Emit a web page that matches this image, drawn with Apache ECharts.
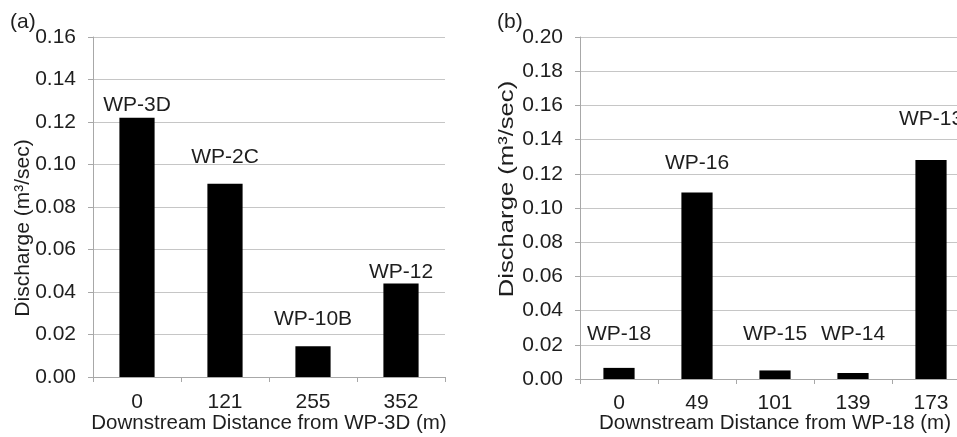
<!DOCTYPE html>
<html>
<head>
<meta charset="utf-8">
<script src="https://cdn.jsdelivr.net/npm/echarts@6/dist/echarts.min.js"></script>
<style>
html,body{margin:0;padding:0;background:#fff;}
#c{width:957px;height:437px;}
</style>
</head>
<body>
<div id="c"></div>
<script>
// Panel (a)
var distA = ['0', '121', '255', '352'];
var siteA = ['WP-3D', 'WP-2C', 'WP-10B', 'WP-12'];
var dischargeA = [0.122, 0.091, 0.0145, 0.044];
// Panel (b)
var distB = ['0', '49', '101', '139', '173'];
var siteB = ['WP-18', 'WP-16', 'WP-15', 'WP-14', 'WP-13'];
var dischargeB = [0.0065, 0.109, 0.005, 0.0035, 0.128];

var yNameA = 'Discharge (m³/sec)';
var yNameB = 'Discharge (m³/sec)';

// label gaps (layout only, px)
var gapA = [2, 16, 16, 1];
var gapB = [23, 19, 26, 28, 30];

var FONT = 'Liberation Sans, Arial, sans-serif';
var TXT = '#1e1e1e';
var GRID = '#c6c6c6';
var AXIS = '#a8a8a8';
var FS = 21;

function buildData(vals, gaps) {
  return vals.map(function (v, i) {
    return { value: v, label: { distance: gaps[i] } };
  });
}

function xAxisCfg(idx, cats, name, margin, gap) {
  return {
    gridIndex: idx, type: 'category', data: cats,
    name: name, nameLocation: 'middle', nameGap: gap, nameMoveOverlap: false,
    nameTextStyle: { fontFamily: FONT, fontSize: 20.5, color: TXT },
    axisLine: { lineStyle: { color: AXIS, width: 1 } },
    axisTick: { show: true, length: 5, lineStyle: { color: AXIS } },
    axisLabel: { fontFamily: FONT, fontSize: FS, color: TXT, margin: margin },
    splitLine: { show: false }
  };
}

function yAxisCfg(idx, max, name, pad, gap) {
  return {
    gridIndex: idx, type: 'value', min: 0, max: max, interval: 0.02,
    name: name, nameLocation: 'middle', nameGap: gap, nameMoveOverlap: false,
    nameTextStyle: { fontFamily: FONT, fontSize: 21, color: TXT, padding: pad },
    axisLine: { show: true, lineStyle: { color: AXIS, width: 1 } },
    axisTick: { show: true, length: 5, lineStyle: { color: AXIS } },
    axisLabel: { fontFamily: FONT, fontSize: FS, color: TXT, margin: 17,
      formatter: function (v) { return v.toFixed(2); } },
    splitLine: { show: true, lineStyle: { color: GRID, width: 1 } }
  };
}

function barSeries(idx, vals, gaps, names) {
  return {
    type: 'bar', xAxisIndex: idx, yAxisIndex: idx,
    data: buildData(vals, gaps),
    barWidth: '40%',
    itemStyle: { color: '#000' },
    label: {
      show: true, position: 'top',
      fontFamily: FONT, fontSize: FS, color: TXT,
      formatter: function (p) { return names[p.dataIndex]; }
    },
    animation: false
  };
}

var chart = echarts.init(document.getElementById('c'));
chart.setOption({
  backgroundColor: '#fff',
  animation: false,
  title: [
    { text: '(a)', left: 5, top: 7, textStyle: { fontFamily: FONT, fontSize: 21, fontWeight: 'normal', color: TXT } },
    { text: '(b)', left: 492, top: 7, textStyle: { fontFamily: FONT, fontSize: 21, fontWeight: 'normal', color: TXT } }
  ],
  grid: [
    { left: 93, top: 37, width: 352, height: 340, containLabel: false, outerBoundsMode: 'none' },
    { left: 580, top: 37, width: 390, height: 342, containLabel: false, outerBoundsMode: 'none' }
  ],
  xAxis: [
    xAxisCfg(0, distA, 'Downstream Distance from WP-3D (m)', 15, 36),
    xAxisCfg(1, distB, 'Downstream Distance from WP-18 (m)', 14, 34)
  ],
  yAxis: [
    yAxisCfg(0, 0.16, yNameA, [0, 42, 0, 0], 59),
    yAxisCfg(1, 0.20, '', [0, 0, 0, 0], 60)
  ],
  graphic: [{
    type: 'text', x: 507, y: 189, rotation: Math.PI / 2, scaleX: 1.22, scaleY: 1,
    style: { text: yNameB, font: '21px ' + FONT, fill: TXT, align: 'center', verticalAlign: 'middle' }
  }],
  series: [
    barSeries(0, dischargeA, gapA, siteA),
    barSeries(1, dischargeB, gapB, siteB)
  ]
});
</script>
</body>
</html>
